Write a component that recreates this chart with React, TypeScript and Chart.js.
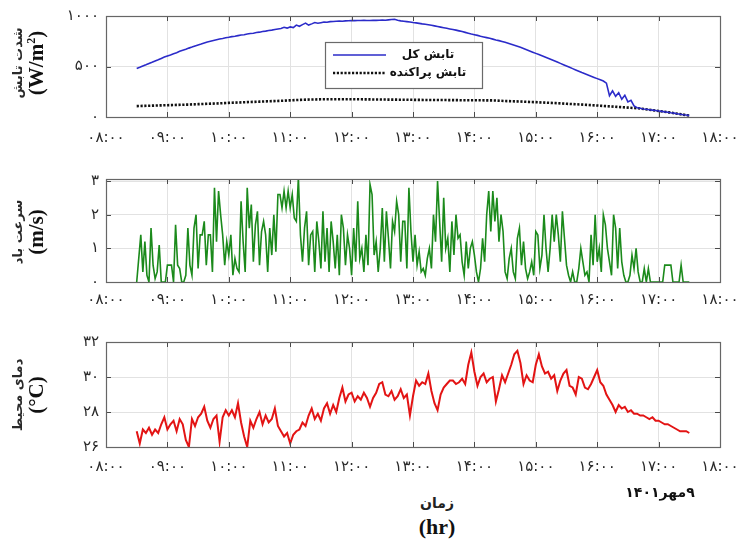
import React, { useEffect, useRef } from "react";
import { Chart, registerables } from "chart.js";

Chart.register(...registerables);

// ---------- data ----------
const timeTicks = [8, 9, 10, 11, 12, 13, 14, 15, 16, 17, 18];
const timeTickLabels = ["۰۸:۰۰", "۰۹:۰۰", "۱۰:۰۰", "۱۱:۰۰", "۱۲:۰۰", "۱۳:۰۰", "۱۴:۰۰", "۱۵:۰۰", "۱۶:۰۰", "۱۷:۰۰", "۱۸:۰۰"];

const startHour = 8.5; // 08:30

const globalStepMin = 3;
const globalRad = [
  480, 492, 505, 517, 530, 542, 555, 567, 580, 593,
  605, 615, 627, 637, 650, 660, 670, 682, 692, 703,
  713, 722, 732, 742, 750, 758, 765, 772, 778, 785,
  790, 796, 800, 806, 812, 815, 822, 826, 830, 836,
  840, 846, 850, 856, 860, 866, 872, 876, 888, 880,
  892, 885, 910, 898, 915, 930, 910, 922, 935, 928,
  934, 940, 938, 944, 946, 948, 950, 948, 952, 953,
  955, 954, 956, 955, 957, 955, 956, 958, 957, 958,
  960, 958, 962, 965, 968, 958, 952, 948, 944, 940,
  935, 932, 927, 922, 918, 913, 908, 902, 896, 890,
  884, 878, 872, 866, 860, 853, 846, 838, 830, 822,
  815, 808, 800, 793, 786, 779, 771, 763, 756, 748,
  740, 730, 720, 710, 700, 690, 678, 666, 654, 642,
  630, 618, 606, 594, 582, 570, 557, 544, 531, 518,
  505, 492, 479, 466, 453, 440, 428, 416, 404, 392,
  380, 368, 356, 335, 210, 260, 205, 240, 175, 215,
  150, 165, 110, 92, 86, 80, 76, 72, 68, 64,
  60, 56, 51, 47, 42, 38, 33, 28, 23, 19,
  14,
];

const diffuseStepMin = 10;
const diffuseRad = [
  108, 111, 114,
  117, 120, 123, 127, 131, 135,
  140, 144, 148, 152, 156, 160,
  165, 170, 173, 175, 176, 176,
  176, 175, 174, 173, 172, 171,
  170, 169, 168, 168, 167, 166,
  166, 165, 164, 158, 155, 151,
  147, 142, 137, 131, 126, 120,
  114, 107, 100, 93, 86, 73,
  60, 46, 30, 14,
];

const windStepMin = 2;
const windSpeed = [
  0, 0.7, 1.4, 0.3, 1.2, 0.2, 0, 1.6, 0.5, 0.1,
  0.3, 1.1, 0, 0, 0, 0.5, 0.5, 0.5, 0, 1.7,
  0.5, 0.4, 0, 0, 0.2, 1.6, 0.5, 0.2, 1.6, 2.0,
  0.4, 1.4, 1.4, 1.8, 0.5, 1.4, 1.4, 0.3, 2.8, 1.2,
  2.7, 2.0, 1.4, 0.5, 1.2, 0.8, 1.4, 0.2, 0.7, 0.4,
  0.3, 2.4, 1.2, 0.3, 2.8, 1.6, 2.3, 0.6, 1.7, 2.1,
  0.5, 1.5, 1.8, 1.4, 0.3, 1.6, 0.8, 2.0, 0.9, 2.6,
  2.6, 2.2, 2.7, 2.2, 2.7, 2.2, 2.6, 1.9, 1.8, 3.1,
  1.4, 0.6, 1.6, 2.1, 0.5, 1.4, 1.5, 0.3, 1.8, 1.2,
  0.4, 2.1, 0.6, 1.6, 0.3, 1.8, 1.2, 0.4, 1.4, 0.2,
  2.0, 1.6, 0.5, 1.4, 1.0, 0.2, 1.6, 0.6, 2.4, 0.7,
  1.0, 0.3, 1.4, 0.5, 2.9, 2.6, 0.8, 1.2, 0.3, 1.0,
  2.2, 0.6, 2.1, 1.3, 0.4, 1.8, 1.5, 2.4, 2.0, 0.6,
  1.8, 1.8, 0.4, 2.8, 1.5, 0.6, 1.4, 0.5, 0.9, 0.3,
  0.4, 0.2, 0.7, 1.0, 0.4, 2.0, 1.2, 3.0, 1.8, 0.6,
  2.5, 1.0, 1.3, 0.3, 1.8, 0.8, 2.0, 1.3, 1.4, 0.6,
  0.2, 1.2, 0.4, 1.0, 1.2, 0.8, 0.3, 0, 0.4, 1.3,
  0.6, 2.0, 2.7, 1.5, 2.7, 1.8, 2.5, 1.2, 2.0, 1.5,
  0.3, 0.1, 0.7, 1.0, 0.3, 0.1, 1.3, 1.6, 0.5, 1.2,
  0.4, 0.1, 0.3, 0.6, 0.2, 1.5, 1.4, 0.4, 0.8, 2.0,
  1.0, 0.3, 1.0, 2.0, 1.2, 2.0, 1.4, 0.6, 2.1, 1.3,
  0.5, 0.2, 0, 0.3, 0, 0, 0.4, 1.0, 0.6, 0.2,
  0.3, 0, 1.4, 0.5, 2.0, 0.6, 1.0, 0.3, 2.0, 1.7,
  1.0, 0.6, 0.2, 2.0, 1.6, 0.4, 1.6, 0.6, 0.2, 0,
  0, 0.2, 0.8, 0.4, 1.0, 0.3, 0, 0, 0.4, 0,
  0.4, 0, 0, 0, 0, 0, 0, 0, 0.5, 0.5,
  0.5, 0.5, 0, 0, 0, 0, 0.5, 0, 0, 0, 0,
];

const tempStepMin = 3;
const airTemp = [
  26.9, 26.2, 27.0, 26.8, 27.1, 26.7, 27.0, 26.8, 27.3, 27.7,
  27.0, 27.3, 27.5, 26.9, 27.6, 27.3, 26.4, 26.0, 27.6, 27.2,
  27.7, 27.9, 28.3, 27.5, 27.1, 27.6, 27.8, 26.3, 27.7, 28.1,
  27.8, 28.1, 27.7, 28.5, 27.4, 26.6, 26.0, 27.5, 27.1, 27.6,
  28.0, 27.3, 27.8, 27.4, 27.6, 28.2, 27.2, 26.9, 26.6, 26.8,
  26.2, 26.7, 26.9, 27.0, 27.4, 27.2, 27.8, 28.2, 27.6, 27.9,
  27.5, 28.2, 28.5, 27.9, 28.4, 28.0, 28.8, 29.4, 28.6, 29.0,
  29.1, 28.6, 28.9, 28.7, 29.1, 28.8, 28.3, 28.8, 29.1, 29.6,
  29.7, 29.0, 28.9, 29.2, 28.7, 28.9, 29.3, 28.8, 29.0, 27.8,
  28.9, 29.8, 29.5, 29.7, 29.6, 30.2, 29.2, 28.5, 28.1, 29.0,
  29.4, 29.6, 29.8, 29.8, 29.6, 29.7, 29.9, 29.6, 30.7, 31.4,
  30.3, 29.5, 30.0, 30.2, 29.7, 29.9, 30.0, 28.6, 29.3, 30.1,
  29.7, 30.2, 30.7, 31.3, 31.5, 30.8, 29.6, 30.1, 29.8, 29.7,
  30.7, 31.3, 30.6, 30.2, 30.3, 29.9, 30.1, 29.2, 29.8, 30.2,
  30.4, 29.5, 29.4, 29.0, 30.0, 29.9, 29.4, 29.3, 29.6, 30.0,
  30.4, 29.7, 29.5, 29.0, 28.7, 28.4, 28.0, 28.4, 28.2, 28.3,
  28.0, 28.1, 27.9, 27.9, 27.8, 27.8, 27.7, 27.6, 27.7, 27.5,
  27.5, 27.4, 27.3, 27.3, 27.2, 27.1, 27.0, 26.9, 26.9, 26.9,
  26.8,
];

const radTicks = [0, 500, 1000];
const radTickLabels = ["۰", "۵۰۰", "۱۰۰۰"];
const windTicks = [0, 1, 2, 3];
const windTickLabels = ["۰", "۱", "۲", "۳"];
const tempTicks = [26, 28, 30, 32];
const tempTickLabels = ["۲۶", "۲۸", "۳۰", "۳۲"];

const seriesNames = ["تابش کل", "تابش پراکنده"];

// ---------- helpers ----------
const toPoints = (vals: number[], stepMin: number) =>
  vals.map((v, i) => ({ x: startHour + (i * stepMin) / 60, y: v }));

const FA_FONT = "'DejaVu Sans', sans-serif";

const framePlugin = {
  id: "frameTicks",
  afterDatasetsDraw(chart: any) {
    const { ctx, chartArea: a, scales } = chart;
    ctx.save();
    ctx.strokeStyle = "#4a4a4a";
    ctx.lineWidth = 1;
    ctx.beginPath();
    const tl = 5;
    for (const t of scales.x.ticks) {
      const px = Math.round(scales.x.getPixelForValue(t.value)) + 0.5;
      ctx.moveTo(px, a.bottom);
      ctx.lineTo(px, a.bottom - tl);
      ctx.moveTo(px, a.top);
      ctx.lineTo(px, a.top + tl);
    }
    for (const t of scales.y.ticks) {
      const py = Math.round(scales.y.getPixelForValue(t.value)) + 0.5;
      ctx.moveTo(a.left, py);
      ctx.lineTo(a.left + tl, py);
      ctx.moveTo(a.right, py);
      ctx.lineTo(a.right - tl, py);
    }
    ctx.stroke();
    ctx.strokeStyle = "#666";
    ctx.lineWidth = 1.2;
    ctx.strokeRect(Math.round(a.left) + 0.5, Math.round(a.top) + 0.5, Math.round(a.right - a.left), Math.round(a.bottom - a.top));
    ctx.restore();
  },
};

const boxLegendPlugin = {
  id: "boxLegend",
  afterDraw(chart: any, _args: any, opts: any) {
    if (!opts || !opts.display) return;
    const { ctx } = chart;
    const { x, y, w, h, rowY, sampleX0, sampleX1, textX } = opts;
    ctx.save();
    ctx.fillStyle = "#fff";
    ctx.fillRect(x, y, w, h);
    ctx.strokeStyle = "#6a6a6a";
    ctx.lineWidth = 1.2;
    ctx.strokeRect(x + 0.5, y + 0.5, w, h);
    chart.data.datasets.forEach((ds: any, i: number) => {
      const yy = rowY[i];
      ctx.beginPath();
      ctx.strokeStyle = ds.borderColor;
      ctx.lineWidth = ds.borderWidth;
      ctx.setLineDash(ds.borderDash || []);
      ctx.moveTo(sampleX0, yy);
      ctx.lineTo(sampleX1, yy);
      ctx.stroke();
      ctx.setLineDash([]);
      ctx.fillStyle = "#111";
      ctx.font = `bold 12px ${FA_FONT}`;
      ctx.direction = "rtl";
      ctx.textAlign = "center";
      ctx.textBaseline = "middle";
      ctx.fillText(ds.label, textX, yy);
    });
    ctx.restore();
  },
};

type PanelCfg = {
  datasets: any[];
  yMin: number;
  yMax: number;
  yTicks: number[];
  yLabels: string[];
  padTop: number;
  xHeight: number;
  xPad: number;
  legend?: any;
};

function buildConfig(p: PanelCfg): any {
  return {
    type: "line",
    data: { datasets: p.datasets },
    plugins: [framePlugin, boxLegendPlugin],
    options: {
      animation: false,
      responsive: false,
      maintainAspectRatio: false,
      devicePixelRatio: 1,
      layout: { padding: { top: p.padTop, right: 25, left: 0, bottom: 0 } },
      elements: { point: { radius: 0 }, line: { tension: 0 } },
      plugins: {
        legend: { display: false },
        tooltip: { enabled: false },
        boxLegend: p.legend || { display: false },
      },
      scales: {
        x: {
          type: "linear",
          min: 8,
          max: 18,
          afterBuildTicks: (s: any) => {
            s.ticks = timeTicks.map((v) => ({ value: v }));
          },
          afterFit: (s: any) => {
            s.height = p.xHeight;
            s.paddingLeft = 0;
            s.paddingRight = 0;
          },
          grid: { color: "#e2e2e2", drawTicks: false, lineWidth: 1 },
          border: { display: false },
          ticks: {
            autoSkip: false,
            maxRotation: 0,
            padding: p.xPad,
            color: "#2a2a2a",
            font: { family: FA_FONT, size: 15 },
            callback: (v: number) => timeTickLabels[timeTicks.indexOf(v)],
          },
        },
        y: {
          type: "linear",
          min: p.yMin,
          max: p.yMax,
          afterBuildTicks: (s: any) => {
            s.ticks = p.yTicks.map((v) => ({ value: v }));
          },
          afterFit: (s: any) => {
            s.width = 106;
          },
          grid: { color: "#e2e2e2", drawTicks: false, lineWidth: 1 },
          border: { display: false },
          ticks: {
            padding: 7,
            color: "#2a2a2a",
            font: { family: FA_FONT, size: 15 },
            callback: (v: number) => p.yLabels[p.yTicks.indexOf(v)],
          },
        },
      },
    },
  };
}

function Panel({ top, height, cfg }: { top: number; height: number; cfg: PanelCfg }) {
  const ref = useRef<HTMLCanvasElement | null>(null);
  useEffect(() => {
    if (!ref.current) return;
    const chart = new Chart(ref.current, buildConfig(cfg));
    return () => chart.destroy();
  }, []);
  return (
    <canvas
      ref={ref}
      width={745}
      height={height}
      style={{ position: "absolute", left: 0, top, width: 745, height }}
    />
  );
}

const radCfg: PanelCfg = {
  datasets: [
    {
      label: seriesNames[0],
      data: toPoints(globalRad, globalStepMin),
      borderColor: "#2b2bc9",
      borderWidth: 1.6,
      fill: false,
    },
    {
      label: seriesNames[1],
      data: toPoints(diffuseRad, diffuseStepMin),
      borderColor: "#111111",
      borderWidth: 2.6,
      borderDash: [2.2, 1.6],
      fill: false,
    },
  ],
  yMin: 0,
  yMax: 1000,
  yTicks: radTicks,
  yLabels: radTickLabels,
  padTop: 14,
  xHeight: 33,
  xPad: 12,
  legend: {
    display: true,
    x: 325,
    y: 42,
    w: 157,
    h: 46,
    rowY: [55, 73],
    sampleX0: 333,
    sampleX1: 386,
    textX: 428,
  },
};

const windCfg: PanelCfg = {
  datasets: [
    {
      label: "wind",
      data: toPoints(windSpeed, windStepMin),
      borderColor: "#1b8a1b",
      borderWidth: 1.6,
      fill: false,
    },
  ],
  yMin: 0,
  yMax: 3.06,
  yTicks: windTicks,
  yLabels: windTickLabels,
  padTop: 19,
  xHeight: 28,
  xPad: 9,
};

const tempCfg: PanelCfg = {
  datasets: [
    {
      label: "temp",
      data: toPoints(airTemp, tempStepMin),
      borderColor: "#e31414",
      borderWidth: 2,
      fill: false,
    },
  ],
  yMin: 26,
  yMax: 32,
  yTicks: tempTicks,
  yLabels: tempTickLabels,
  padTop: 17,
  xHeight: 38,
  xPad: 11,
};

function SideTitle({ cx, cy, fa, unit }: { cx: number; cy: number; fa: string; unit: React.ReactNode }) {
  return (
    <div
      style={{
        position: "absolute",
        left: cx,
        top: cy,
        transform: "translate(-50%, -50%) rotate(-90deg)",
        textAlign: "center",
        whiteSpace: "nowrap",
        lineHeight: 1.05,
      }}
    >
      <div style={{ fontFamily: FA_FONT, fontWeight: "bold", fontSize: 13, color: "#2a2a2a", direction: "rtl" }}>{fa}</div>
      <div style={{ fontFamily: "'Liberation Serif', 'Times New Roman', serif", fontWeight: "bold", fontSize: 21, color: "#111" }}>
        {unit}
      </div>
    </div>
  );
}

export default function App() {
  useEffect(() => {
    document.body.style.margin = "0";
  }, []);
  return (
    <div style={{ position: "absolute", left: 0, top: 0, width: 745, height: 545, background: "#fff", overflow: "hidden" }}>
      <Panel top={0} height={150} cfg={radCfg} />
      <Panel top={160} height={150} cfg={windCfg} />
      <Panel top={325} height={160} cfg={tempCfg} />

      <SideTitle
        cx={29}
        cy={63}
        fa="شدت تابش"
        unit={
          <span>
            (W/m<sup style={{ fontSize: 12, verticalAlign: "super", lineHeight: 0 }}>2</sup>)
          </span>
        }
      />
      <SideTitle cx={29} cy={232} fa="سرعت باد" unit="(m/s)" />
      <SideTitle cx={29} cy={395} fa="دمای محیط" unit="(°C)" />

      <div
        style={{
          position: "absolute",
          left: 437,
          top: 503,
          transform: "translate(-50%, -50%)",
          fontFamily: FA_FONT,
          fontWeight: "bold",
          fontSize: 14,
          color: "#222",
          direction: "rtl",
          whiteSpace: "nowrap",
        }}
      >
        زمان
      </div>
      <div
        style={{
          position: "absolute",
          left: 437,
          top: 527,
          transform: "translate(-50%, -50%)",
          fontFamily: "'Liberation Serif', 'Times New Roman', serif",
          fontWeight: "bold",
          fontSize: 22,
          color: "#111",
          whiteSpace: "nowrap",
        }}
      >
        (hr)
      </div>
      <div
        style={{
          position: "absolute",
          left: 660,
          top: 492,
          transform: "translate(-50%, -50%)",
          fontFamily: FA_FONT,
          fontWeight: "bold",
          fontSize: 14,
          color: "#111",
          direction: "rtl",
          whiteSpace: "nowrap",
        }}
      >
        ۹مهر۱۴۰۱
      </div>
    </div>
  );
}
